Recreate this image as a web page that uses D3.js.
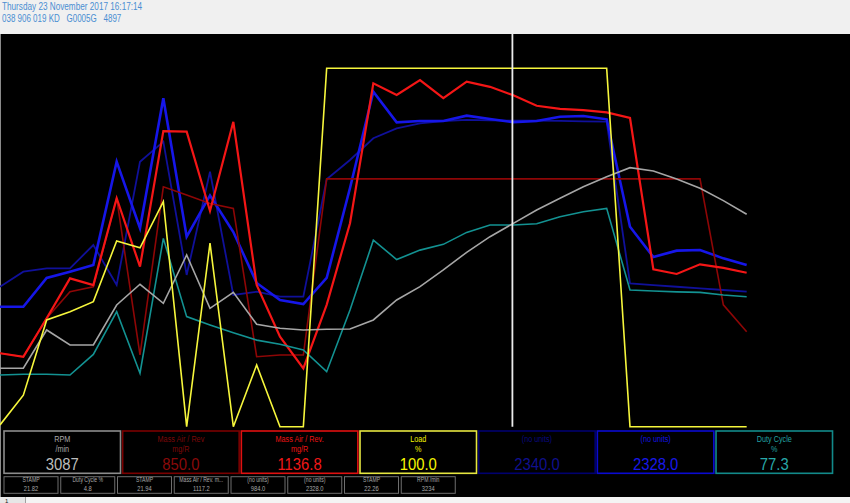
<!DOCTYPE html>
<html><head><meta charset="utf-8">
<script src="https://cdn.jsdelivr.net/npm/d3@7"></script>
<style>html,body{margin:0;padding:0;background:#f0f0f0;overflow:hidden}</style>
</head><body><svg id="c" width="850" height="503"></svg>
<script>
// ---------- DATA ----------
const headerLine1 = "Thursday 23 November 2017 16:17:14";
const headerLine2 = ["038 906 019 KD", "G0005G", "4897"];

const sampleIndex = [0,1,2,3,4,5,6,7,8,9,10,11,12,13,14,15,16,17,18,19,20,21,22,23,24,25,26,27,28,29,30,31,32];

const rpm = [887,887,1468,1240,1240,1847,2162,1873,2606,1797,2040,1554,1494,1468,1479,1483,1620,1923,2125,2379,2647,2884,3087,3290,3467,3643,3795,3932,3882,3760,3619,3431,3224];
const massAirA = [252,240,372,463,480,784,246,823,795,766,749,240,246,246,850,850,850,850,850,850,850,850,850,850,850,850,850,850,850,850,850,418,326];
const massAirB = [252,240,372,509,486,784,549,1014,1012,740,1046,486,309,200,418,698,1178,1138,1189,1127,1184,1166,1137,1101,1090,1086,1078,1059,540,524,557,545,528];
const load = [0.5,8.8,29.8,32.1,34.9,51.8,49.9,62.8,0,51.2,0,17.2,0,0,100,100,100,100,100,100,100,100,100,100,100,100,100,0,0,0,0,0,0];
const noUnitsA = [1070,1185,1211,1211,1389,1083,2026,2179,1160,1949,1007,1032,994,994,1891,2039,2205,2281,2319,2337,2345,2342,2340,2340,2338,2335,2332,1096,1083,1070,1058,1045,1032];
const noUnitsB = [917,917,1137,1185,1236,2026,1517,2511,1453,1768,1488,1099,969,938,1137,1825,2561,2327,2337,2337,2378,2352,2328,2337,2370,2375,2350,1529,1297,1346,1351,1287,1236];
const dutyCycle = [19.8,20.1,20.1,19.8,27.7,44.1,20.5,72.2,42.2,39.0,36.0,33.2,31.6,29.4,21.1,44.7,71.5,64.1,67.7,69.9,74.5,77.3,77.3,77.8,80.5,82.4,83.7,52.4,52.0,51.7,51.5,50.5,49.8];

const cursorSample = 21.96;

const panelLabels = ["RPM", "Mass Air / Rev", "Mass Air / Rev.", "Load", "(no units)", "(no units)", "Duty Cycle"];
const panelUnits  = ["/min", "mg/R", "mg/R", "%", "", "", "%"];
const panelValues = ["3087", "850.0", "1136.8", "100.0", "2340.0", "2328.0", "77.3"];

const stripLabels = ["STAMP", "Duty Cycle %", "STAMP", "Mass Air / Rev. m...", "(no units)", "(no units)", "STAMP", "RPM /min"];
const stripValues = ["21.82", "4.8", "21.94", "1117.2", "984.0", "2328.0", "22.26", "3234"];

// ---------- STYLE ----------
const W = 850, H = 503;
const plotTop = 68.3, plotBottom = 426.7;
const panelStroke = ["#8c8c8c", "#7a0000", "#e01010", "#e6e640", "#00006e", "#0a0ad2", "#128a8a"];
const panelText   = ["#a8a8a8", "#7e0808", "#ec1414", "#f2f200", "#0a0a82", "#1414e0", "#22a2a2"];
const valueText   = ["#bcbcbc", "#8a0a0a", "#f01818", "#f6f600", "#10108e", "#1818e8", "#28a8a8"];
const FONT = "Liberation Sans, Arial, sans-serif";

const svg = d3.select("#c");
svg.append("rect").attr("x",0).attr("y",0).attr("width",W).attr("height",H).attr("fill","#f0f0f0");
svg.append("rect").attr("x",0).attr("y",34).attr("width",W).attr("height",463).attr("fill","#000");
svg.append("line").attr("x1",0.5).attr("x2",0.5).attr("y1",34).attr("y2",497).attr("stroke","#8a8a8a").attr("stroke-width",1);

function sqText(parent, t, cx, cy, size, sx, fill, anchor){
  parent.append("text").attr("transform",`translate(${cx},${cy}) scale(${sx},1)`)
    .attr("text-anchor",anchor || "middle").attr("font-family",FONT).attr("font-size",size).attr("fill",fill).text(t);
}

// header
const hdr = "#4a8ed2";
sqText(svg, headerLine1, 2, 9.5, 10, 0.82, hdr, "start");
const h2x = [2, 66.5, 103.5];
headerLine2.forEach((t,i)=> sqText(svg, t, h2x[i], 21.5, 10, 0.8, hdr, "start"));

// scales
const x = d3.scaleLinear().domain([0,32]).range([0,746.67]);
const yLoad = d3.scaleLinear().domain([0,100]).range([plotBottom, plotTop]);
const yMass = d3.scaleLinear().domain([0,1229.5]).range([plotBottom, plotTop]);
const yNo   = d3.scaleLinear().domain([0,2740]).range([plotBottom, plotTop]);
const yRpm  = d3.scaleLinear().domain([0,5440]).range([plotBottom, plotTop]);
const yDuty = d3.scaleLinear().domain([0,137.4]).range([plotBottom, plotTop]);

const series = [
  {v: noUnitsA, y: yNo, c: "#10109a", w: 1.8},
  {v: noUnitsB, y: yNo, c: "#1616e8", w: 2.6},
  {v: massAirA, y: yMass, c: "#8e0606", w: 1.6},
  {v: massAirB, y: yMass, c: "#f41616", w: 2.2},
  {v: dutyCycle, y: yDuty, c: "#139292", w: 1.6},
  {v: rpm, y: yRpm, c: "#a6a6a6", w: 1.6},
  {v: load, y: yLoad, c: "#f6f63c", w: 1.6}
];
const g = svg.append("g");
series.forEach(s=>{
  const line = d3.line().x((d,i)=>x(sampleIndex[i])).y(d=>s.y(d));
  g.append("path").datum(s.v).attr("d",line).attr("fill","none")
    .attr("stroke",s.c).attr("stroke-width",s.w).attr("stroke-linejoin","miter");
});
// cursor
g.append("line").attr("x1",x(cursorSample)).attr("x2",x(cursorSample)).attr("y1",34).attr("y2",plotBottom)
  .attr("stroke","#ececec").attr("stroke-width",1.8);

// panels
const pW = 116.5, pPitch = 118.67, pY = 431, pH = 42.3;
panelLabels.forEach((lab,i)=>{
  const px = 4 + i*pPitch;
  svg.append("rect").attr("x",px).attr("y",pY).attr("width",pW).attr("height",pH)
    .attr("fill","#000").attr("stroke",panelStroke[i]).attr("stroke-width",1.6);
  const cx = px + pW/2;
  sqText(svg, lab, cx, 442.3, 9.3, 0.78, panelText[i]);
  if (panelUnits[i]) sqText(svg, panelUnits[i], cx, 452.3, 9.3, 0.78, panelText[i]);
  sqText(svg, panelValues[i], cx, 470, 16.5, 0.9, valueText[i]);
});

// small strip boxes
const sW = 54, sPitch = 56.75, sY = 476.7, sH = 16.6;
stripLabels.forEach((lab,j)=>{
  const sx0 = 4 + j*sPitch;
  svg.append("rect").attr("x",sx0).attr("y",sY).attr("width",sW).attr("height",sH)
    .attr("fill","#000").attr("stroke","#6e6e6e").attr("stroke-width",1);
  const cx = sx0 + sW/2;
  sqText(svg, lab, cx, 482.2, 6.4, 0.8, "#a8a8a8");
  sqText(svg, stripValues[j], cx, 491, 7.2, 0.8, "#a8a8a8");
});

// bottom strip with tab
svg.append("rect").attr("x",0).attr("y",497).attr("width",W).attr("height",6).attr("fill","#f4f4f4");
svg.append("rect").attr("x",0).attr("y",497).attr("width",25).attr("height",6).attr("fill","#e6e6e6");
svg.append("line").attr("x1",25.5).attr("x2",25.5).attr("y1",497).attr("y2",503).attr("stroke","#a0a0a0");
svg.append("text").attr("x",5).attr("y",502.8).attr("font-family",FONT).attr("font-size",6).attr("fill","#202020").text("1");
</script></body></html>
